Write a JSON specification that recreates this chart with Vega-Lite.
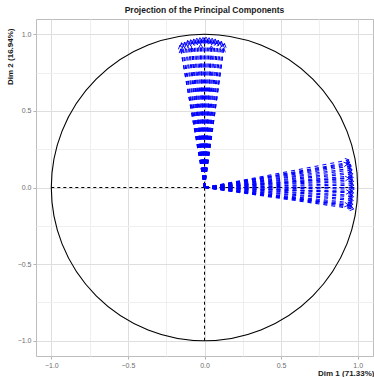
{
  "$schema": "https://vega.github.io/schema/vega-lite/v6.json",
  "width": 337,
  "height": 337,
  "autosize": {"type": "none"},
  "padding": {"left": 36, "top": 19, "right": 1, "bottom": 21},
  "background": "white",
  "config": {
    "view": {"stroke": "#bdbdbd", "strokeWidth": 1},
    "font": "Liberation Sans"
  },
  "title": {
    "text": "Projection of the Principal Components",
    "fontSize": 8.5,
    "fontWeight": "bold",
    "color": "#1a1a1a",
    "anchor": "middle",
    "offset": 5,
    "font": "Liberation Sans"
  },
  "datasets": {
    "vars": [
      {"dim1": -0.160, "dim2": 0.930}, {"dim1": -0.150, "dim2": 0.945}, {"dim1": -0.140, "dim2": 0.925},
      {"dim1": -0.130, "dim2": 0.950}, {"dim1": -0.120, "dim2": 0.935}, {"dim1": -0.110, "dim2": 0.960},
      {"dim1": -0.100, "dim2": 0.940}, {"dim1": -0.090, "dim2": 0.965}, {"dim1": -0.080, "dim2": 0.950},
      {"dim1": -0.070, "dim2": 0.970}, {"dim1": -0.060, "dim2": 0.955}, {"dim1": -0.050, "dim2": 0.975},
      {"dim1": -0.040, "dim2": 0.960}, {"dim1": -0.030, "dim2": 0.978}, {"dim1": -0.020, "dim2": 0.965},
      {"dim1": -0.010, "dim2": 0.980}, {"dim1": 0.000, "dim2": 0.970}, {"dim1": 0.010, "dim2": 0.982},
      {"dim1": 0.020, "dim2": 0.965}, {"dim1": 0.030, "dim2": 0.978}, {"dim1": 0.040, "dim2": 0.960},
      {"dim1": 0.050, "dim2": 0.975}, {"dim1": 0.060, "dim2": 0.955}, {"dim1": 0.070, "dim2": 0.970},
      {"dim1": 0.080, "dim2": 0.950}, {"dim1": 0.090, "dim2": 0.962}, {"dim1": 0.100, "dim2": 0.945},
      {"dim1": 0.110, "dim2": 0.955}, {"dim1": 0.120, "dim2": 0.935}, {"dim1": 0.130, "dim2": 0.940},
      {"dim1": -0.155, "dim2": 0.905}, {"dim1": 0.125, "dim2": 0.910}, {"dim1": -0.085, "dim2": 0.915},
      {"dim1": 0.045, "dim2": 0.925}, {"dim1": -0.025, "dim2": 0.935},
      {"dim1": 0.944, "dim2": 0.180}, {"dim1": 0.950, "dim2": 0.165}, {"dim1": 0.955, "dim2": 0.150},
      {"dim1": 0.960, "dim2": 0.140}, {"dim1": 0.958, "dim2": 0.125}, {"dim1": 0.965, "dim2": 0.115},
      {"dim1": 0.962, "dim2": 0.100}, {"dim1": 0.970, "dim2": 0.090}, {"dim1": 0.966, "dim2": 0.075},
      {"dim1": 0.972, "dim2": 0.065}, {"dim1": 0.968, "dim2": 0.050}, {"dim1": 0.975, "dim2": 0.040},
      {"dim1": 0.970, "dim2": 0.025}, {"dim1": 0.976, "dim2": 0.015}, {"dim1": 0.972, "dim2": 0.000},
      {"dim1": 0.978, "dim2": -0.010}, {"dim1": 0.970, "dim2": -0.025}, {"dim1": 0.975, "dim2": -0.035},
      {"dim1": 0.968, "dim2": -0.050}, {"dim1": 0.974, "dim2": -0.060}, {"dim1": 0.966, "dim2": -0.075},
      {"dim1": 0.972, "dim2": -0.085}, {"dim1": 0.964, "dim2": -0.100}, {"dim1": 0.970, "dim2": -0.110},
      {"dim1": 0.962, "dim2": -0.120}, {"dim1": 0.968, "dim2": -0.130}, {"dim1": 0.975, "dim2": -0.140},
      {"dim1": 0.935, "dim2": 0.155}, {"dim1": 0.940, "dim2": -0.115}, {"dim1": 0.945, "dim2": 0.060},
      {"dim1": 0.950, "dim2": -0.030}
    ],
    "refs": [
      {"x1": -1, "y1": 0, "x2": 1, "y2": 0},
      {"x1": 0, "y1": -1, "x2": 0, "y2": 1}
    ],
    "centre": [{"cx": 0, "cy": 0}]
  },
  "layer": [
    {
      "data": {"name": "vars"},
      "mark": {"type": "rule", "opacity": 0},
      "encoding": {
        "x": {
          "field": "dim1", "type": "quantitative",
          "scale": {"domain": [-1.1, 1.1], "nice": false, "zero": false},
          "axis": {
            "title": "Dim 1 (71.33%)",
            "values": [-1, -0.75, -0.5, -0.25, 0, 0.25, 0.5, 0.75, 1],
            "labelExpr": "abs(datum.value*2 - round(datum.value*2)) < 0.001 ? format(datum.value, '.1f') : ''",
            "grid": true,
            "gridColor": {"condition": {"test": "abs(datum.value*2 - round(datum.value*2)) < 0.001", "value": "#dedede"}, "value": "#efefef"},
            "gridWidth": 1,
            "domain": false,
            "tickColor": "#b3b3b3",
            "tickSize": 3,
            "tickOpacity": {"condition": {"test": "abs(datum.value*2 - round(datum.value*2)) < 0.001", "value": 1}, "value": 0},
            "labelColor": "#6e6e6e",
            "labelFontSize": 7,
            "labelPadding": 2,
            "labelFlush": false,
            "titleFontSize": 8,
            "titleFontWeight": "bold",
            "titleColor": "#1a1a1a",
            "titleAnchor": "end",
            "titleAlign": "right",
            "titleBaseline": "middle",
            "titleX": 338,
            "titleY": 17
          }
        },
        "y": {
          "field": "dim2", "type": "quantitative",
          "scale": {"domain": [-1.1, 1.1], "nice": false, "zero": false},
          "axis": {
            "title": "Dim 2 (16.94%)",
            "values": [-1, -0.75, -0.5, -0.25, 0, 0.25, 0.5, 0.75, 1],
            "labelExpr": "abs(datum.value*2 - round(datum.value*2)) < 0.001 ? format(datum.value, '.1f') : ''",
            "grid": true,
            "gridColor": {"condition": {"test": "abs(datum.value*2 - round(datum.value*2)) < 0.001", "value": "#dedede"}, "value": "#efefef"},
            "gridWidth": 1,
            "domain": false,
            "tickColor": "#b3b3b3",
            "tickSize": 3,
            "tickOpacity": {"condition": {"test": "abs(datum.value*2 - round(datum.value*2)) < 0.001", "value": 1}, "value": 0},
            "labelColor": "#6e6e6e",
            "labelFontSize": 7,
            "labelPadding": 2,
            "labelFlush": false,
            "titleFontSize": 8,
            "titleFontWeight": "bold",
            "titleColor": "#1a1a1a",
            "titleAnchor": "end",
            "titleAngle": -90,
            "titleAlign": "right",
            "titleBaseline": "middle",
            "titleX": -26,
            "titleY": 9
          }
        }
      }
    },
    {
      "data": {"name": "refs"},
      "mark": {"type": "rule", "color": "black", "strokeWidth": 1, "strokeDash": [3, 3]},
      "encoding": {
        "x": {"field": "x1", "type": "quantitative"},
        "y": {"field": "y1", "type": "quantitative"},
        "x2": {"field": "x2"},
        "y2": {"field": "y2"}
      }
    },
    {
      "data": {"name": "centre"},
      "mark": {"type": "point", "shape": "circle", "filled": false, "stroke": "black", "strokeWidth": 1.1, "size": 93881, "opacity": 1},
      "encoding": {
        "x": {"field": "cx", "type": "quantitative"},
        "y": {"field": "cy", "type": "quantitative"}
      }
    },
    {
      "data": {"name": "vars"},
      "transform": [
        {"calculate": "0", "as": "ox"},
        {"calculate": "0", "as": "oy"}
      ],
      "mark": {"type": "rule", "color": "#0000ff", "strokeWidth": 1.1, "strokeDash": [4, 4]},
      "encoding": {
        "x": {"field": "ox", "type": "quantitative"},
        "y": {"field": "oy", "type": "quantitative"},
        "x2": {"field": "dim1"},
        "y2": {"field": "dim2"}
      }
    },
    {
      "data": {"name": "vars"},
      "transform": [
        {"calculate": "90 - atan2(datum.dim2, datum.dim1) * 180 / PI", "as": "ang"}
      ],
      "mark": {"type": "point", "shape": "M-0.57,0.98L0,0L0.57,0.98", "filled": false, "stroke": "#0000ff", "strokeWidth": 0.9, "size": 64, "opacity": 1},
      "encoding": {
        "x": {"field": "dim1", "type": "quantitative"},
        "y": {"field": "dim2", "type": "quantitative"},
        "angle": {"field": "ang", "type": "quantitative", "scale": null}
      }
    }
  ]
}
